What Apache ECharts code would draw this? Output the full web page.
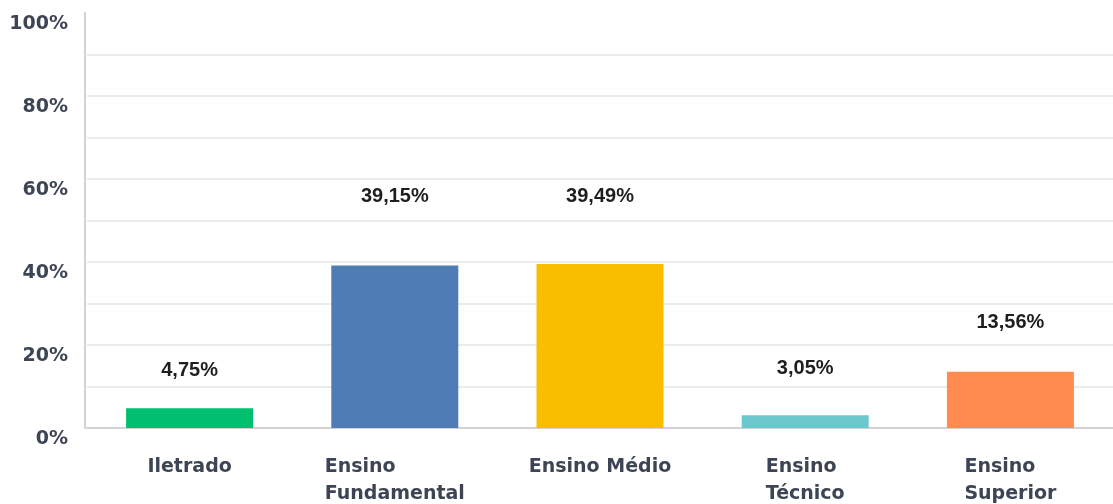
<!DOCTYPE html>
<html>
<head>
<meta charset="utf-8">
<title>Escolaridade</title>
<script src="https://cdn.jsdelivr.net/npm/echarts@6/dist/echarts.min.js"></script>
<style>
  html, body { margin: 0; padding: 0; background: #fff; }
  #chart { width: 1113px; height: 504px; }
</style>
</head>
<body>
<div id="chart"></div>
<script>
// Education level breakdown (percent of respondents)
const categories = ['Iletrado', 'Ensino\nFundamental', 'Ensino Médio', 'Ensino\nTécnico', 'Ensino\nSuperior'];
const values = [4.75, 39.15, 39.49, 3.05, 13.56];
const valueLabels = ['4,75%', '39,15%', '39,49%', '3,05%', '13,56%'];
const yTicks = [0, 20, 40, 60, 80, 100];

// presentation
const barColors = ['#00BF6F', '#507CB6', '#F9BE00', '#6BC8CD', '#FF8B4F'];
const labelGaps = [28, 59, 58, 37, 39];
const catText = '#3d4555';
const catFont = '"DejaVu Sans", sans-serif';

// multi-line category names: lines left-aligned inside a centered block
function catLabel(name) {
  const parts = name.split('\n');
  if (parts.length === 1) return '{s|' + name + '}';
  return parts.map(p => '{l|' + p + '}').join('\n');
}

const chart = echarts.init(document.getElementById('chart'), null, { renderer: 'canvas' });

const splitColors = [];
for (let v = 0; v <= 100; v += 10) splitColors.push(v === 100 ? 'rgba(0,0,0,0)' : '#ebebeb');

chart.setOption({
  animation: false,
  backgroundColor: '#ffffff',
  grid: { left: 87, right: -2, top: 13, bottom: 76, containLabel: false },
  xAxis: {
    type: 'category',
    data: categories,
    axisLine: { show: true, lineStyle: { color: '#d2d2d2', width: 2 } },
    axisTick: { show: false },
    axisLabel: {
      interval: 0,
      margin: 26,
      formatter: catLabel,
      rich: {
        s: { fontFamily: catFont, fontWeight: 'bold', fontSize: 19, color: catText, lineHeight: 27 },
        l: { fontFamily: catFont, fontWeight: 'bold', fontSize: 19, color: catText, lineHeight: 27, align: 'left' }
      }
    }
  },
  yAxis: {
    type: 'value',
    min: 0,
    max: 100,
    interval: 10,
    offset: 2,
    axisLine: { show: true, lineStyle: { color: '#d2d2d2', width: 2 } },
    axisTick: { show: false },
    splitLine: { show: true, lineStyle: { color: splitColors, width: 2 } },
    axisLabel: {
      margin: 17,
      fontFamily: catFont,
      fontWeight: 'bold',
      fontSize: 19,
      color: catText,
      verticalAlign: 'top',
      lineHeight: 23,
      formatter: v => (yTicks.indexOf(v) >= 0 ? v + '%' : '')
    }
  },
  series: [{
    type: 'bar',
    barWidth: 127,
    data: values.map((v, i) => ({
      value: v,
      itemStyle: { color: barColors[i] },
      label: { distance: labelGaps[i] }
    })),
    label: {
      show: true,
      position: 'top',
      fontFamily: '"Liberation Sans", Arial, sans-serif',
      fontWeight: 'bold',
      fontSize: 20,
      color: '#1e1e1e',
      formatter: p => valueLabels[p.dataIndex]
    }
  }]
});
</script>
</body>
</html>
